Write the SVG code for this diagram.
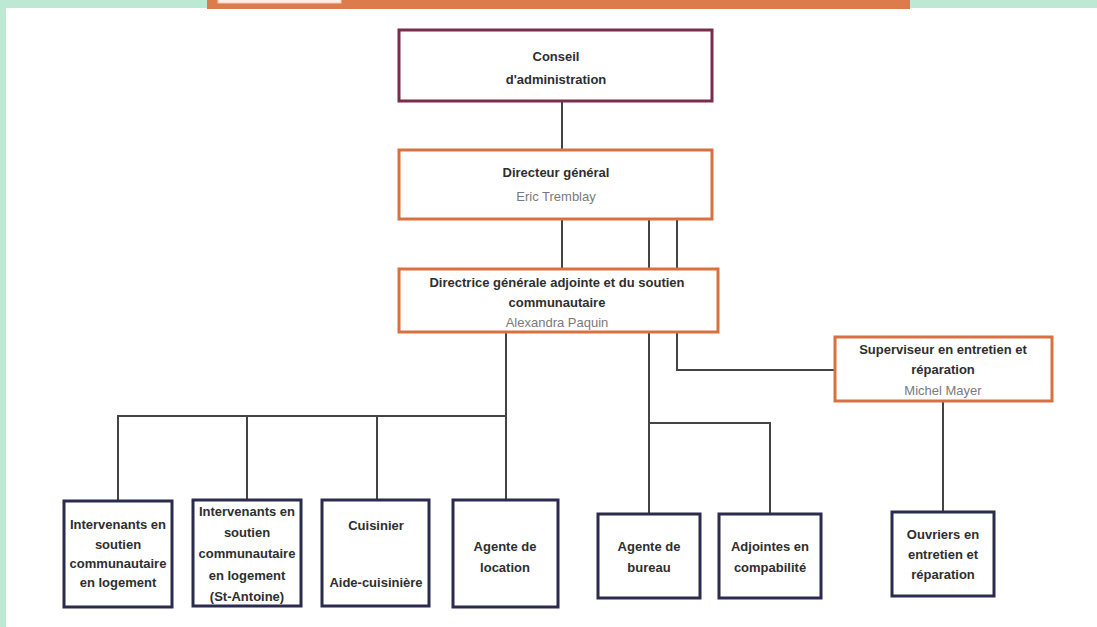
<svg xmlns="http://www.w3.org/2000/svg" width="1097" height="627" viewBox="0 0 1097 627">
<style>
.t{font-family:"Liberation Sans","DejaVu Sans",sans-serif;font-weight:bold;font-size:13px;fill:#2e2e2e;text-anchor:middle}
.n{font-family:"Liberation Sans","DejaVu Sans",sans-serif;font-size:13px;fill:#7a7a7a;text-anchor:middle}
.box{fill:#fff;stroke-width:3}
.m{stroke:#7b2b4b}
.o{stroke:#d8703f}
.b{stroke:#2b2b4d}
.c{fill:none;stroke:#444;stroke-width:2}
</style>
<rect x="0" y="0" width="1097" height="627" fill="#fff"/>
<rect x="0" y="0" width="1097" height="8" fill="#bde8d3"/>
<rect x="0" y="0" width="6" height="627" fill="#bde8d3"/>
<rect x="207" y="0" width="703" height="9" fill="#dc7b4b"/>
<rect x="218" y="-2" width="123" height="5" fill="#fbefe8" stroke="#f0cdb9" stroke-width="1"/>

<g id="connectors">
<path class="c" d="M562 101V150"/>
<path class="c" d="M562 219V269"/>
<path class="c" d="M649 219V514"/>
<path class="c" d="M677 219V370H835"/>
<path class="c" d="M506 332V500"/>
<path class="c" d="M118 500V416H506"/>
<path class="c" d="M247 416V500"/>
<path class="c" d="M377 416V500"/>
<path class="c" d="M649 423H770V514"/>
<path class="c" d="M943 401V512"/>
</g>

<g id="conseil">
<rect class="box m" x="399" y="30" width="313" height="71"/>
<text class="t" x="556" y="61">Conseil</text>
<text class="t" x="556" y="84">d'administration</text>
</g>

<g id="directeur">
<rect class="box o" x="399" y="150" width="313" height="69"/>
<text class="t" x="556" y="177">Directeur général</text>
<text class="n" x="556" y="201">Eric Tremblay</text>
</g>

<g id="directrice">
<rect class="box o" x="399" y="269" width="319" height="63"/>
<text class="t" x="557" y="287">Directrice générale adjointe et du soutien</text>
<text class="t" x="557" y="307">communautaire</text>
<text class="n" x="557" y="327">Alexandra Paquin</text>
</g>

<g id="superviseur">
<rect class="box o" x="835" y="337" width="217" height="64"/>
<text class="t" x="943" y="354">Superviseur en entretien et</text>
<text class="t" x="943" y="374">réparation</text>
<text class="n" x="943" y="395">Michel Mayer</text>
</g>

<g id="intervenants">
<rect class="box b" x="64" y="501" width="108" height="106"/>
<text class="t" x="118" y="529">Intervenants en</text>
<text class="t" x="118" y="549">soutien</text>
<text class="t" x="118" y="568">communautaire</text>
<text class="t" x="118" y="587">en logement</text>
</g>

<g id="intervenants-st-antoine">
<rect class="box b" x="193" y="500" width="108" height="106"/>
<text class="t" x="247" y="516">Intervenants en</text>
<text class="t" x="247" y="537">soutien</text>
<text class="t" x="247" y="558">communautaire</text>
<text class="t" x="247" y="580">en logement</text>
<text class="t" x="247" y="601">(St-Antoine)</text>
</g>

<g id="cuisinier">
<rect class="box b" x="322" y="500" width="107" height="106"/>
<text class="t" x="376" y="530">Cuisinier</text>
<text class="t" x="376" y="587">Aide-cuisinière</text>
</g>

<g id="agente-location">
<rect class="box b" x="453" y="500" width="105" height="107"/>
<text class="t" x="505" y="551">Agente de</text>
<text class="t" x="505" y="572">location</text>
</g>

<g id="agente-bureau">
<rect class="box b" x="598" y="514" width="102" height="84"/>
<text class="t" x="649" y="551">Agente de</text>
<text class="t" x="649" y="572">bureau</text>
</g>

<g id="adjointes">
<rect class="box b" x="719" y="514" width="102" height="84"/>
<text class="t" x="770" y="551">Adjointes en</text>
<text class="t" x="770" y="572">compabilité</text>
</g>

<g id="ouvriers">
<rect class="box b" x="892" y="512" width="102" height="84"/>
<text class="t" x="943" y="539">Ouvriers en</text>
<text class="t" x="943" y="559">entretien et</text>
<text class="t" x="943" y="579">réparation</text>
</g>
</svg>
